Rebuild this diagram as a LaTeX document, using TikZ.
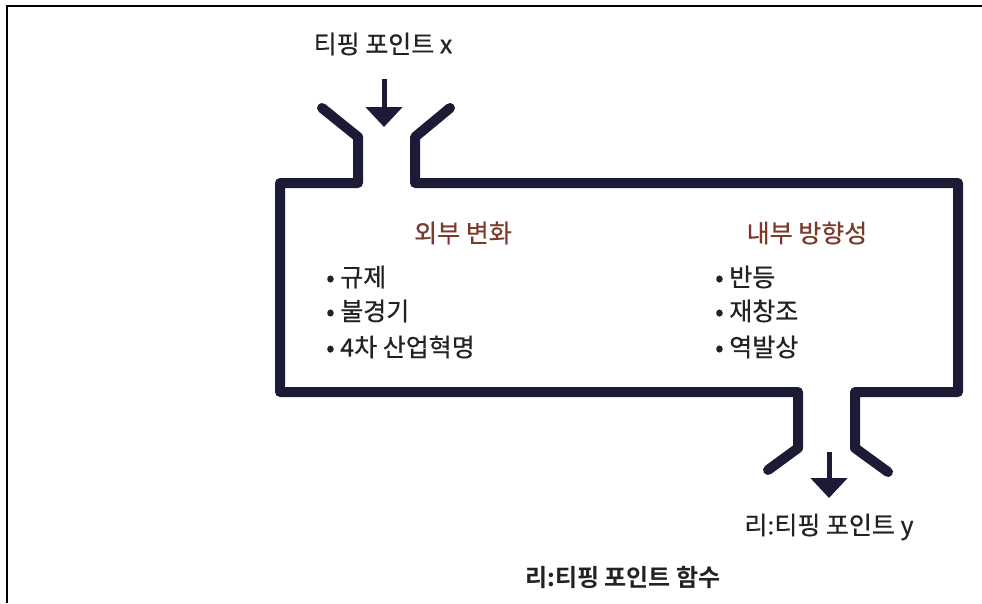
\documentclass[tikz,border=0pt]{standalone}
\usepackage{fontspec}
\setmainfont{Noto Sans CJK KR}[FakeBold=0.6]
\newfontfamily\boldkr{Noto Sans CJK KR Bold}[FakeBold=0]
\usetikzlibrary{arrows.meta}
\definecolor{pipe}{HTML}{1C1B35}
\definecolor{title}{HTML}{7A3A2C}
\definecolor{txt}{HTML}{222222}
\begin{document}
\begin{tikzpicture}[x=1pt,y=-1pt,
  pipeline/.style={draw=pipe,line width=10pt,line join=round,line cap=round},
  flow/.style={draw=pipe,line width=5pt,-{Triangle[width=36pt,length=20pt]}},
  lbl/.style={font=\fontsize{25}{29}\selectfont,text=txt,inner sep=0pt},
  head/.style={font=\fontsize{25}{29}\selectfont,text=title,inner sep=0pt},
  item/.style={font=\fontsize{25}{29}\selectfont,text=txt,inner sep=0pt,anchor=west}]
\useasboundingbox (0,0) rectangle (982,603);
% frame
\draw[line width=2pt,black] (7,603) -- (7,6) -- (982,6);
% pipe
\draw[pipeline] (322,108) -- (358,137) -- (358,183) -- (280,183) -- (280,392) -- (798,392) -- (798,448) -- (768,470);
\draw[pipeline] (450,108) -- (415,137) -- (415,183) -- (958,183) -- (958,392) -- (855,392) -- (855,448) -- (888,472);
% arrows
\coordinate (inA) at (384,79);
\coordinate (inB) at (384,127);
\coordinate (outA) at (829,452);
\coordinate (outB) at (829,498);
\draw[flow] (inA) -- (inB);
\draw[flow] (outA) -- (outB);
% texts
\node[lbl] (tx) at (383,44) {티핑 포인트 x};
\node[head] (ext) at (463,233) {외부 변화};
\node[head] (int) at (807,233) {내부 방향성};
\node[item] (e1) at (326,277) {• 규제};
\node[item] (e2) at (326,311) {• 불경기};
\node[item] (e3) at (326,347) {• 4차 산업혁명};
\node[item] (i1) at (715,277) {• 반등};
\node[item] (i2) at (715,311) {• 재창조};
\node[item] (i3) at (715,347) {• 역발상};
\node[lbl] (ty) at (829,527) {리:티핑 포인트 y};
\node[lbl,font=\fontsize{24}{28}\selectfont\boldkr] (fn) at (623,577) {리:티핑 포인트 함수};
\end{tikzpicture}
\end{document}
